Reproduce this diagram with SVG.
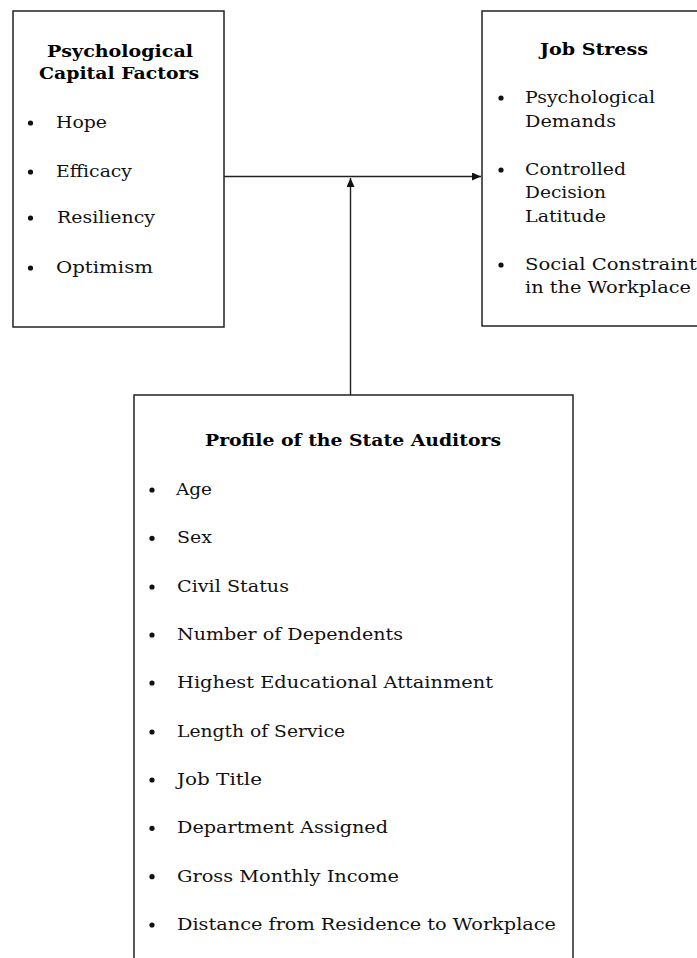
<svg xmlns="http://www.w3.org/2000/svg" width="697" height="958" viewBox="0 0 697 958">
<defs>
<style>
.box{fill:#fff;stroke:#222;stroke-width:1.5}
.t{font-family:"DejaVu Serif","Liberation Serif",serif;font-size:17.5px;fill:#111}
.h{font-family:"DejaVu Serif","Liberation Serif",serif;font-size:16.5px;font-weight:bold;fill:#000}
.b{fill:#111}
.c{fill:none;stroke:#222;stroke-width:1.4}
</style>
<marker id="ah" markerWidth="10" markerHeight="8" refX="9" refY="4" orient="auto" markerUnits="userSpaceOnUse">
<path d="M0,0 L9,4 L0,8 Z" fill="#111"/>
</marker>
</defs>
<rect width="697" height="958" fill="#fff"/>
<g id="connectors">
<line class="c" x1="224" y1="176.5" x2="481" y2="176.5" marker-end="url(#ah)"/>
<line class="c" x1="350.5" y1="395" x2="350.5" y2="178" marker-end="url(#ah)"/>
</g>
<g id="psycap">
<rect class="box" x="13" y="11" width="211" height="316"/>
<text class="h" x="120" y="57" text-anchor="middle" textLength="146" lengthAdjust="spacingAndGlyphs">Psychological</text>
<text class="h" x="119" y="79" text-anchor="middle" textLength="160" lengthAdjust="spacingAndGlyphs">Capital Factors</text>
<circle class="b" cx="30.5" cy="123" r="2.6"/>
<text class="t" x="56" y="128" textLength="51" lengthAdjust="spacingAndGlyphs">Hope</text>
<circle class="b" cx="30.5" cy="172" r="2.6"/>
<text class="t" x="56" y="177" textLength="76" lengthAdjust="spacingAndGlyphs">Efficacy</text>
<circle class="b" cx="30.5" cy="218" r="2.6"/>
<text class="t" x="57" y="223" textLength="98" lengthAdjust="spacingAndGlyphs">Resiliency</text>
<circle class="b" cx="30.5" cy="268" r="2.6"/>
<text class="t" x="56" y="273" textLength="97" lengthAdjust="spacingAndGlyphs">Optimism</text>
</g>
<g id="jobstress">
<rect class="box" x="482" y="11" width="220" height="315"/>
<text class="h" x="594" y="55" text-anchor="middle" textLength="108" lengthAdjust="spacingAndGlyphs">Job Stress</text>
<circle class="b" cx="501" cy="98" r="2.6"/>
<text class="t" x="525" y="103" textLength="130" lengthAdjust="spacingAndGlyphs">Psychological</text>
<text class="t" x="525" y="127" textLength="91" lengthAdjust="spacingAndGlyphs">Demands</text>
<circle class="b" cx="501" cy="170" r="2.6"/>
<text class="t" x="525" y="175" textLength="101" lengthAdjust="spacingAndGlyphs">Controlled</text>
<text class="t" x="525" y="198" textLength="81" lengthAdjust="spacingAndGlyphs">Decision</text>
<text class="t" x="525" y="222" textLength="81" lengthAdjust="spacingAndGlyphs">Latitude</text>
<circle class="b" cx="501" cy="265" r="2.6"/>
<text class="t" x="525" y="270" textLength="172" lengthAdjust="spacingAndGlyphs">Social Constraint</text>
<text class="t" x="525" y="293" textLength="166" lengthAdjust="spacingAndGlyphs">in the Workplace</text>
</g>
<g id="profile">
<rect class="box" x="134" y="395" width="439" height="580"/>
<text class="h" x="353" y="446" text-anchor="middle" textLength="296" lengthAdjust="spacingAndGlyphs">Profile of the State Auditors</text>
<circle class="b" cx="152" cy="490" r="2.6"/>
<text class="t" x="176" y="495" textLength="36" lengthAdjust="spacingAndGlyphs">Age</text>
<circle class="b" cx="152" cy="538.3" r="2.6"/>
<text class="t" x="177" y="543.3" textLength="35" lengthAdjust="spacingAndGlyphs">Sex</text>
<circle class="b" cx="152" cy="587" r="2.6"/>
<text class="t" x="177" y="592" textLength="112" lengthAdjust="spacingAndGlyphs">Civil Status</text>
<circle class="b" cx="152" cy="635" r="2.6"/>
<text class="t" x="177" y="640" textLength="226" lengthAdjust="spacingAndGlyphs">Number of Dependents</text>
<circle class="b" cx="152" cy="683" r="2.6"/>
<text class="t" x="177" y="688" textLength="316" lengthAdjust="spacingAndGlyphs">Highest Educational Attainment</text>
<circle class="b" cx="152" cy="732" r="2.6"/>
<text class="t" x="177" y="737" textLength="168" lengthAdjust="spacingAndGlyphs">Length of Service</text>
<circle class="b" cx="152" cy="780" r="2.6"/>
<text class="t" x="177" y="785" textLength="85" lengthAdjust="spacingAndGlyphs">Job Title</text>
<circle class="b" cx="152" cy="828.3" r="2.6"/>
<text class="t" x="177" y="833.3" textLength="211" lengthAdjust="spacingAndGlyphs">Department Assigned</text>
<circle class="b" cx="152" cy="876.7" r="2.6"/>
<text class="t" x="177" y="881.7" textLength="222" lengthAdjust="spacingAndGlyphs">Gross Monthly Income</text>
<circle class="b" cx="152" cy="925" r="2.6"/>
<text class="t" x="177" y="930" textLength="379" lengthAdjust="spacingAndGlyphs">Distance from Residence to Workplace</text>
</g>
</svg>
